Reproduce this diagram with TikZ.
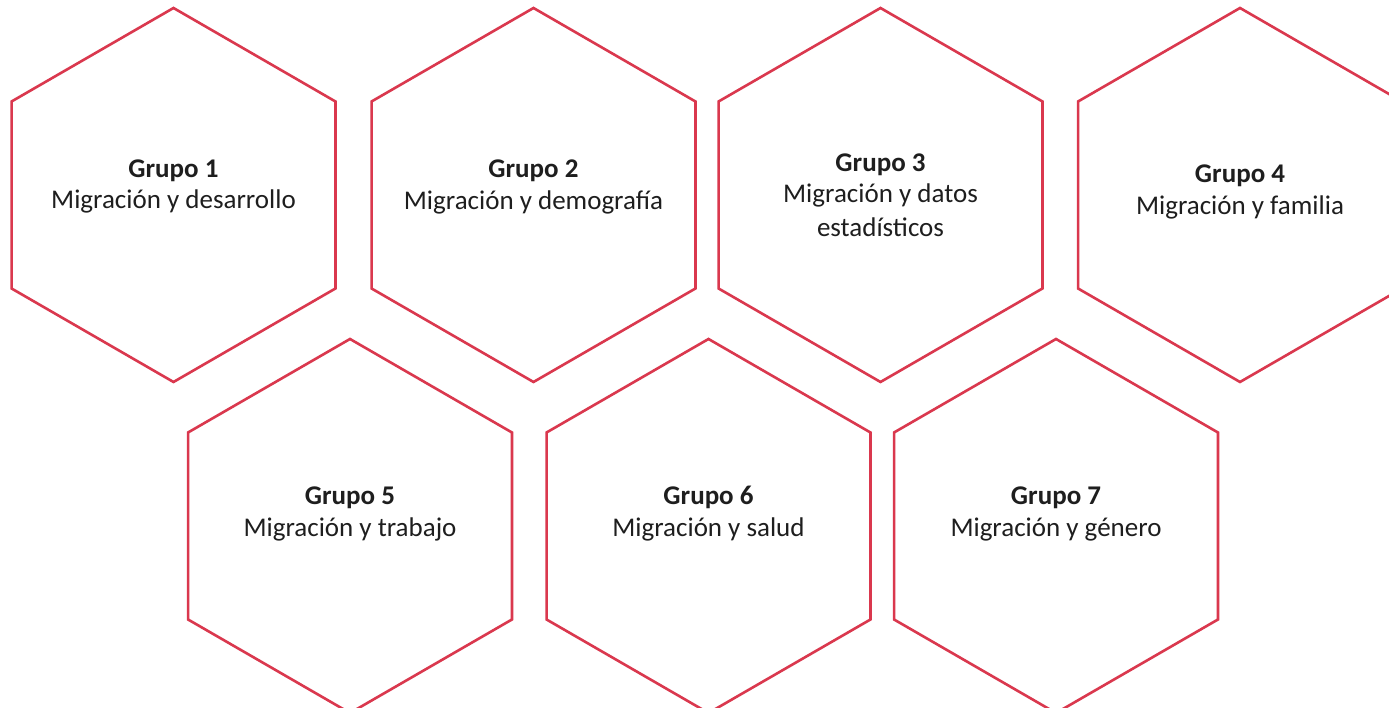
\documentclass[tikz,border=0pt]{standalone}
\usepackage{fontspec}
\setmainfont{Carlito}
\definecolor{hexred}{RGB}{218,56,78}
\definecolor{txt}{RGB}{30,30,30}
\tikzset{
  hexline/.style={draw=hexred, line width=2.6pt, line join=miter},
  ttl/.style={anchor=base, font=\fontsize{27}{32}\selectfont\bfseries, text=txt, inner sep=0pt},
  sub/.style={anchor=base, font=\fontsize{27}{32}\selectfont, text=txt, inner sep=0pt},
}
\newcommand{\hexat}[2]{%
  \draw[hexline, shift={(#1,#2)}] (90:187) -- (150:187) -- (210:187) -- (270:187) -- (330:187) -- (30:187) -- cycle;}
\begin{document}
\begin{tikzpicture}[x=1pt,y=1pt]
\fill[white] (0,0) rectangle (1389,708);
\begin{scope}
\clip (0,0) rectangle (1389,708);
\hexat{173.5}{513}
\hexat{533.5}{513}
\hexat{880.5}{513}
\hexat{1240}{513}
\hexat{350}{182}
\hexat{708.5}{182}
\hexat{1056}{182}
\end{scope}
\useasboundingbox (0,0) rectangle (1389,708);
% row 1
\node[ttl] (t1) at (173.5,530) {Grupo 1};
\node[sub] (s1) at (173.5,499) {Migración y desarrollo};
\node[ttl] (t2) at (533.5,530) {Grupo 2};
\node[sub] (s2) at (533.5,498) {Migración y demografía};
\node[ttl] (t3) at (880.5,536) {Grupo 3};
\node[sub] (s3) at (880.5,505) {Migración y datos};
\node[sub] (s3b) at (880.5,471) {estadísticos};
\node[ttl] (t4) at (1240,525) {Grupo 4};
\node[sub] (s4) at (1240,493) {Migración y familia};
% row 2
\node[ttl] (t5) at (350,203) {Grupo 5};
\node[sub] (s5) at (350,171) {Migración y trabajo};
\node[ttl] (t6) at (708.5,203) {Grupo 6};
\node[sub] (s6) at (708.5,171) {Migración y salud};
\node[ttl] (t7) at (1056,203) {Grupo 7};
\node[sub] (s7) at (1056,171) {Migración y género};
\end{tikzpicture}
\end{document}
